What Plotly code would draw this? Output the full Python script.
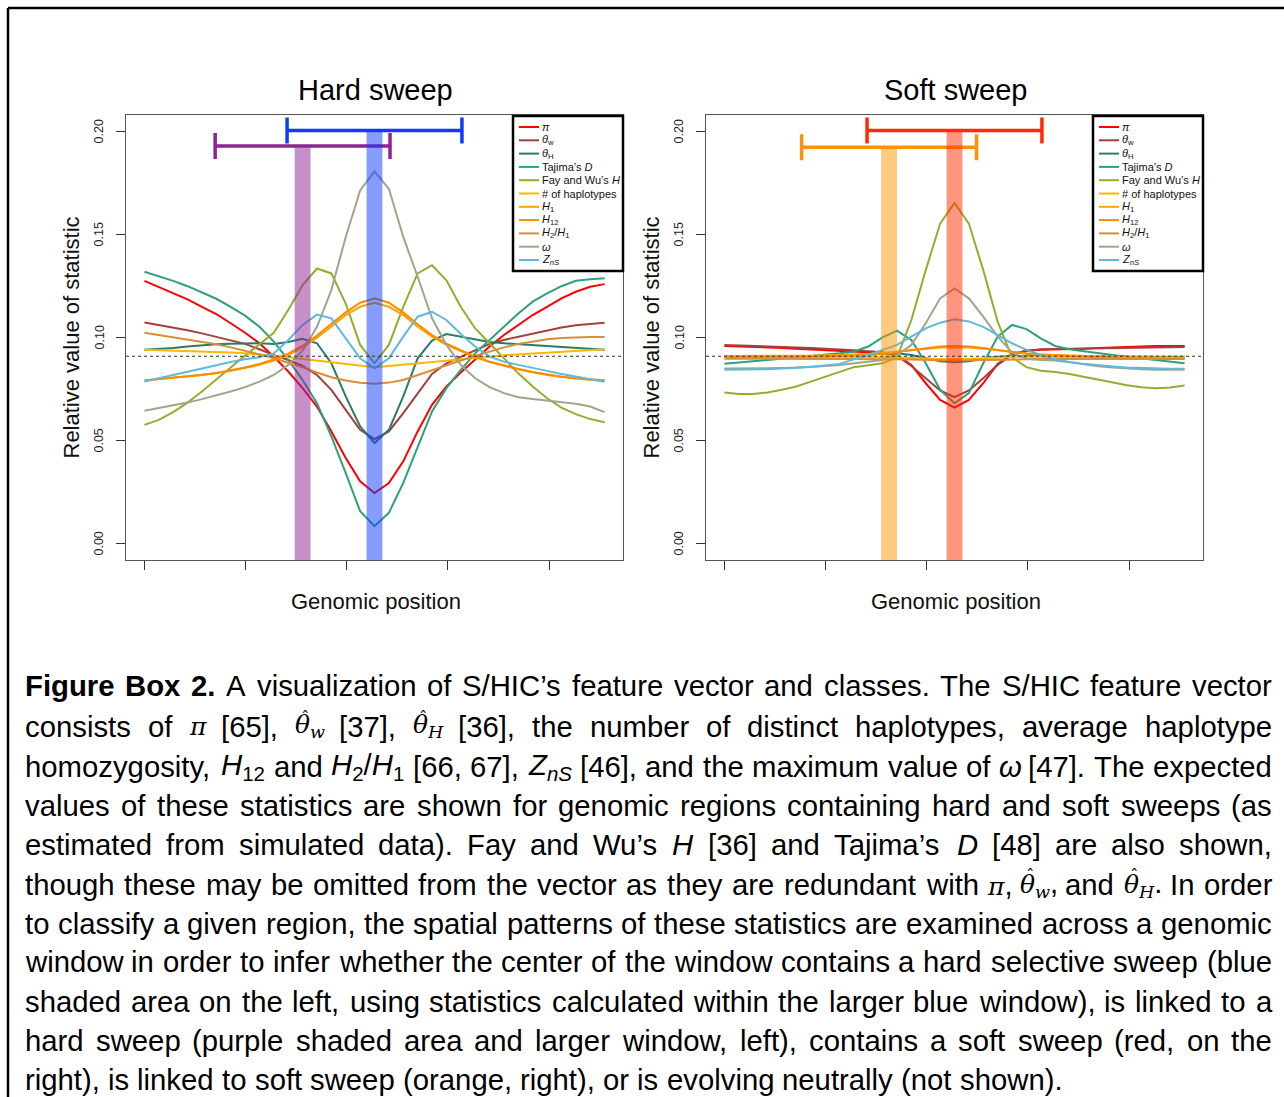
import re
import plotly.graph_objects as go

# ---------------- data ----------------
positions = list(range(33))                      # sampling points along the genomic window
x_tick_positions = [0, 7.04, 14.07, 21.11, 28.15]
y_tick_values = [0.00, 0.05, 0.10, 0.15, 0.20]
y_tick_labels = ["0.00", "0.05", "0.10", "0.15", "0.20"]
neutral_level = 1 / 11

panel_titles = ["Hard sweep", "Soft sweep"]
x_title = "Genomic position"
y_title = "Relative value of statistic"

stat_labels = ["<i>π</i>", "<i>θ</i><sub>w</sub>", "<i>θ</i><sub>H</sub>", "Tajima’s <i>D</i>",
               "Fay and Wu’s <i>H</i>", "# of haplotypes", "<i>H</i><sub>1</sub>", "<i>H</i><sub>12</sub>",
               "<i>H</i><sub>2</sub>/<i>H</i><sub>1</sub>", "<i>ω</i>", "<i>Z</i><sub><i>nS</i></sub>"]
stat_colors = ["#FF0000", "#A3403C", "#2B7B68", "#2EA07C", "#93AE2E", "#FFB700",
               "#FFA500", "#FF8C00", "#D88E35", "#A0A58A", "#5CBADB"]

# ---- hard sweep panel ----
hard_pi = [0.1275, 0.1246, 0.1217, 0.1185, 0.1149, 0.1114, 0.1069, 0.1023, 0.0972, 0.0907, 0.0835,
           0.0754, 0.0665, 0.0544, 0.0415, 0.0302, 0.0245, 0.0294, 0.0399, 0.0544, 0.0673, 0.0762,
           0.0830, 0.0894, 0.0956, 0.1012, 0.1061, 0.1109, 0.1149, 0.1190, 0.1222, 0.1246, 0.1259]
hard_theta_w = [0.1073, 0.1061, 0.1048, 0.1035, 0.1020, 0.1004, 0.0988, 0.0969, 0.0943, 0.0915, 0.0891,
                0.0862, 0.0818, 0.0746, 0.0649, 0.0552, 0.0507, 0.0544, 0.0633, 0.0730, 0.0823, 0.0875,
                0.0907, 0.0940, 0.0969, 0.0988, 0.1004, 0.1020, 0.1036, 0.1049, 0.1059, 0.1067, 0.1072]
hard_theta_h = [0.0940, 0.0943, 0.0949, 0.0956, 0.0962, 0.0967, 0.0970, 0.0972, 0.0972, 0.0969, 0.0978,
                0.0994, 0.0972, 0.0875, 0.0714, 0.0568, 0.0488, 0.0552, 0.0714, 0.0899, 0.0985, 0.1017,
                0.1004, 0.0988, 0.0978, 0.0972, 0.0967, 0.0962, 0.0957, 0.0952, 0.0948, 0.0943, 0.0940]
hard_tajima_d = [0.1319, 0.1298, 0.1275, 0.1249, 0.1220, 0.1188, 0.1149, 0.1106, 0.1052, 0.0980, 0.0891,
                 0.0794, 0.0681, 0.0520, 0.0342, 0.0157, 0.0084, 0.0149, 0.0294, 0.0471, 0.0641, 0.0754,
                 0.0843, 0.0923, 0.0988, 0.1052, 0.1117, 0.1174, 0.1214, 0.1249, 0.1275, 0.1283, 0.1287]
hard_fay_wu_h = [0.0576, 0.0600, 0.0638, 0.0684, 0.0738, 0.0794, 0.0854, 0.0912, 0.0967, 0.1023, 0.1133,
                 0.1254, 0.1335, 0.1311, 0.1165, 0.0964, 0.0875, 0.0964, 0.1149, 0.1311, 0.1351, 0.1278,
                 0.1149, 0.1044, 0.0972, 0.0899, 0.0826, 0.0762, 0.0705, 0.0660, 0.0628, 0.0604, 0.0589]
hard_n_haplotypes = [0.0940, 0.0938, 0.0936, 0.0935, 0.0931, 0.0930, 0.0927, 0.0923, 0.0918, 0.0912, 0.0904,
                     0.0896, 0.0888, 0.0880, 0.0870, 0.0862, 0.0856, 0.0862, 0.0868, 0.0875, 0.0881, 0.0888,
                     0.0894, 0.0901, 0.0907, 0.0914, 0.0918, 0.0923, 0.0928, 0.0933, 0.0936, 0.0940, 0.0943]
hard_h1 = [0.0791, 0.0798, 0.0804, 0.0810, 0.0818, 0.0826, 0.0838, 0.0851, 0.0867, 0.0888, 0.0915,
           0.0952, 0.0999, 0.1052, 0.1109, 0.1149, 0.1169, 0.1149, 0.1109, 0.1052, 0.1004, 0.0964,
           0.0933, 0.0904, 0.0881, 0.0862, 0.0846, 0.0831, 0.0818, 0.0809, 0.0801, 0.0794, 0.0791]
hard_h12 = [0.0791, 0.0798, 0.0804, 0.0810, 0.0818, 0.0828, 0.0840, 0.0854, 0.0872, 0.0893, 0.0922,
            0.0960, 0.1009, 0.1064, 0.1122, 0.1169, 0.1190, 0.1169, 0.1122, 0.1064, 0.1012, 0.0970,
            0.0938, 0.0907, 0.0883, 0.0864, 0.0847, 0.0833, 0.0820, 0.0810, 0.0802, 0.0796, 0.0793]
hard_h2_h1 = [0.1023, 0.1012, 0.1001, 0.0989, 0.0978, 0.0967, 0.0952, 0.0936, 0.0918, 0.0899, 0.0878,
              0.0856, 0.0830, 0.0807, 0.0791, 0.0780, 0.0775, 0.0781, 0.0794, 0.0818, 0.0843, 0.0867,
              0.0888, 0.0910, 0.0931, 0.0952, 0.0969, 0.0980, 0.0991, 0.0998, 0.1001, 0.1002, 0.1002]
hard_omega = [0.0644, 0.0657, 0.0670, 0.0684, 0.0701, 0.0718, 0.0738, 0.0759, 0.0786, 0.0818, 0.0867,
              0.0936, 0.1052, 0.1230, 0.1488, 0.1714, 0.1806, 0.1722, 0.1488, 0.1295, 0.1093, 0.0964,
              0.0867, 0.0802, 0.0759, 0.0730, 0.0710, 0.0701, 0.0694, 0.0688, 0.0678, 0.0665, 0.0638]
hard_zns = [0.0786, 0.0802, 0.0818, 0.0835, 0.0851, 0.0867, 0.0881, 0.0894, 0.0904, 0.0923, 0.0988,
            0.1061, 0.1111, 0.1093, 0.0996, 0.0899, 0.0851, 0.0899, 0.1004, 0.1101, 0.1125, 0.1085,
            0.1017, 0.0956, 0.0907, 0.0883, 0.0867, 0.0851, 0.0838, 0.0823, 0.0810, 0.0797, 0.0785]

# ---- soft sweep panel ----
soft_pi = [0.0959, 0.0957, 0.0956, 0.0952, 0.0949, 0.0946, 0.0943, 0.0940, 0.0936, 0.0931, 0.0928,
           0.0925, 0.0915, 0.0867, 0.0778, 0.0697, 0.0660, 0.0697, 0.0778, 0.0872, 0.0920, 0.0936,
           0.0940, 0.0941, 0.0943, 0.0946, 0.0949, 0.0952, 0.0956, 0.0957, 0.0959, 0.0959, 0.0959]
soft_theta_w = [0.0964, 0.0962, 0.0960, 0.0959, 0.0956, 0.0952, 0.0949, 0.0946, 0.0943, 0.0938, 0.0933,
                0.0928, 0.0910, 0.0862, 0.0802, 0.0743, 0.0710, 0.0743, 0.0802, 0.0867, 0.0915, 0.0936,
                0.0943, 0.0944, 0.0946, 0.0948, 0.0949, 0.0951, 0.0952, 0.0952, 0.0954, 0.0954, 0.0954]
soft_theta_h = [0.0907, 0.0907, 0.0907, 0.0909, 0.0909, 0.0909, 0.0910, 0.0910, 0.0912, 0.0914, 0.0917,
                0.0920, 0.0923, 0.0915, 0.0899, 0.0885, 0.0880, 0.0885, 0.0897, 0.0907, 0.0910, 0.0910,
                0.0910, 0.0909, 0.0909, 0.0907, 0.0907, 0.0907, 0.0907, 0.0907, 0.0907, 0.0906, 0.0906]
soft_tajima_d = [0.0872, 0.0878, 0.0885, 0.0891, 0.0897, 0.0904, 0.0910, 0.0917, 0.0923, 0.0931, 0.0956,
                 0.1001, 0.1033, 0.0988, 0.0875, 0.0746, 0.0681, 0.0730, 0.0875, 0.1004, 0.1061, 0.1041,
                 0.0996, 0.0959, 0.0943, 0.0933, 0.0923, 0.0915, 0.0907, 0.0899, 0.0891, 0.0883, 0.0875]
soft_fay_wu_h = [0.0733, 0.0726, 0.0726, 0.0733, 0.0746, 0.0762, 0.0786, 0.0810, 0.0835, 0.0856, 0.0865,
                 0.0875, 0.0904, 0.1085, 0.1327, 0.1553, 0.1653, 0.1553, 0.1327, 0.1077, 0.0904, 0.0856,
                 0.0839, 0.0833, 0.0823, 0.0810, 0.0794, 0.0781, 0.0768, 0.0759, 0.0754, 0.0757, 0.0767]
soft_n_haplotypes = [0.0906, 0.0906, 0.0906, 0.0906, 0.0906, 0.0906, 0.0906, 0.0907, 0.0907, 0.0907, 0.0907,
                     0.0906, 0.0904, 0.0901, 0.0897, 0.0896, 0.0894, 0.0896, 0.0899, 0.0902, 0.0906, 0.0907,
                     0.0907, 0.0907, 0.0907, 0.0907, 0.0906, 0.0906, 0.0906, 0.0906, 0.0904, 0.0904, 0.0904]
soft_h1 = [0.0910, 0.0910, 0.0910, 0.0910, 0.0910, 0.0912, 0.0912, 0.0914, 0.0915, 0.0917, 0.0920,
           0.0925, 0.0931, 0.0940, 0.0946, 0.0951, 0.0952, 0.0951, 0.0946, 0.0938, 0.0930, 0.0923,
           0.0918, 0.0915, 0.0912, 0.0910, 0.0909, 0.0907, 0.0906, 0.0904, 0.0902, 0.0901, 0.0899]
soft_h12 = [0.0904, 0.0904, 0.0904, 0.0904, 0.0906, 0.0906, 0.0907, 0.0909, 0.0910, 0.0912, 0.0915,
            0.0921, 0.0930, 0.0940, 0.0949, 0.0956, 0.0959, 0.0956, 0.0949, 0.0940, 0.0930, 0.0921,
            0.0917, 0.0912, 0.0909, 0.0906, 0.0904, 0.0902, 0.0901, 0.0899, 0.0899, 0.0897, 0.0897]
soft_h2_h1 = [0.0897, 0.0897, 0.0897, 0.0897, 0.0897, 0.0897, 0.0897, 0.0897, 0.0897, 0.0897, 0.0897,
              0.0896, 0.0894, 0.0893, 0.0891, 0.0889, 0.0888, 0.0889, 0.0891, 0.0893, 0.0894, 0.0896,
              0.0896, 0.0896, 0.0896, 0.0896, 0.0896, 0.0896, 0.0896, 0.0896, 0.0896, 0.0896, 0.0896]
soft_omega = [0.0849, 0.0849, 0.0849, 0.0851, 0.0852, 0.0854, 0.0857, 0.0862, 0.0867, 0.0875, 0.0883,
              0.0891, 0.0915, 0.0964, 0.1069, 0.1190, 0.1238, 0.1190, 0.1101, 0.1004, 0.0927, 0.0897,
              0.0891, 0.0888, 0.0880, 0.0870, 0.0860, 0.0854, 0.0849, 0.0846, 0.0844, 0.0844, 0.0843]
soft_zns = [0.0843, 0.0843, 0.0844, 0.0846, 0.0849, 0.0852, 0.0857, 0.0864, 0.0872, 0.0894, 0.0915,
            0.0940, 0.0964, 0.1004, 0.1044, 0.1072, 0.1088, 0.1078, 0.1052, 0.1012, 0.0972, 0.0940,
            0.0915, 0.0894, 0.0881, 0.0872, 0.0864, 0.0859, 0.0854, 0.0851, 0.0849, 0.0848, 0.0848]

hard_series = [hard_pi, hard_theta_w, hard_theta_h, hard_tajima_d, hard_fay_wu_h, hard_n_haplotypes,
               hard_h1, hard_h12, hard_h2_h1, hard_omega, hard_zns]
soft_series = [soft_pi, soft_theta_w, soft_theta_h, soft_tajima_d, soft_fay_wu_h, soft_n_haplotypes,
               soft_h1, soft_h12, soft_h2_h1, soft_omega, soft_zns]

# classification windows: (center, level of the bracket, colour)
window_half_width = 6.08
band_half_width = 0.55
hard_windows = [(16.0, 0.2005, "#0D3BFF"), (11.0, 0.1929, "#8E2396")]
soft_windows = [(16.0, 0.2005, "#FF2A00"), (11.45, 0.1924, "#FF9400")]

caption_lines = [
    "<b>Figure</b> <b>Box</b> <b>2.</b> A visualization of S/HIC’s feature vector and classes. The S/HIC feature vector",
    "consists of {PI} [65], {THW} [37], {THH} [36], the number of distinct haplotypes, average haplotype",
    "homozygosity, <i>H</i><sub>12</sub> and <i>H</i><sub>2</sub>/<i>H</i><sub>1</sub> [66, 67], <i>Z</i><sub><i>nS</i></sub> [46], and the maximum value of <i>ω</i> [47]. The expected",
    "values of these statistics are shown for genomic regions containing hard and soft sweeps (as",
    "estimated from simulated data). Fay and Wu’s <i>H</i> [36] and Tajima’s <i>D</i> [48] are also shown,",
    "though these may be omitted from the vector as they are redundant with {PI}, {THW}, and {THH}. In order",
    "to classify a given region, the spatial patterns of these statistics are examined across a genomic",
    "window in order to infer whether the center of the window contains a hard selective sweep (blue",
    "shaded area on the left, using statistics calculated within the larger blue window), is linked to a",
    "hard sweep (purple shaded area and larger window, left), contains a soft sweep (red, on the",
    "right), is linked to soft sweep (orange, right), or is evolving neutrally (not shown).",
]

# ---------------- layout helpers ----------------
W, H = 1284, 1097
FONT = "Liberation Sans, Arial, Helvetica, sans-serif"


def px(x):
    return x / W


def py(y):
    return 1 - y / H


panel_left = [126, 706]
panel_right = [623, 1203]
panel_top, panel_bottom = 115, 560
x_range = [-1.28, 33.28]
y_range = [-0.008, 0.208]

fig = go.Figure()
shapes = []
annotations = []

for p, (series, windows) in enumerate([(hard_series, hard_windows), (soft_series, soft_windows)]):
    xa = "x" if p == 0 else "x2"
    ya = "y" if p == 0 else "y2"
    for vals, col in zip(series, stat_colors):
        fig.add_trace(go.Scatter(x=positions, y=vals, mode="lines", xaxis=xa, yaxis=ya,
                                 line=dict(color=col, width=2), showlegend=False, hoverinfo="skip"))
    # window brackets
    for c, lvl, col in windows:
        fig.add_trace(go.Scatter(x=[c], y=[lvl], mode="markers", xaxis=xa, yaxis=ya,
                                 marker=dict(size=2, opacity=0), showlegend=False, hoverinfo="skip",
                                 error_x=dict(type="data", array=[window_half_width], symmetric=True,
                                              color=col, thickness=3.5, width=13)))
        shapes.append(dict(type="rect", xref=xa, yref=ya, x0=c - band_half_width, x1=c + band_half_width,
                           y0=y_range[0], y1=lvl - 0.0006, fillcolor=col, opacity=0.5,
                           line=dict(width=0), layer="above"))
    # neutral expectation
    shapes.append(dict(type="line", xref=xa + " domain", yref=ya, x0=0, x1=1, y0=neutral_level,
                       y1=neutral_level, line=dict(color="#333333", width=1.2, dash="3px,3px"), layer="above"))

    # titles
    cx = (panel_left[p] + panel_right[p]) / 2
    annotations.append(dict(text=panel_titles[p], xref="paper", yref="paper", x=px(cx + 1), y=py(90),
                            showarrow=False, font=dict(family=FONT, size=29, color="#000"),
                            xanchor="center", yanchor="middle"))
    annotations.append(dict(text=x_title, xref="paper", yref="paper", x=px(cx + 1), y=py(601),
                            showarrow=False, font=dict(family=FONT, size=22, color="#111"),
                            xanchor="center", yanchor="middle"))
    annotations.append(dict(text=y_title, xref="paper", yref="paper", x=px(panel_left[p] - 55),
                            y=py((panel_top + panel_bottom) / 2), textangle=-90, showarrow=False,
                            font=dict(family=FONT, size=22, color="#111"), xanchor="center", yanchor="middle"))
    for tv, tl in zip(y_tick_values, y_tick_labels):
        annotations.append(dict(text=tl, xref="paper", yref=ya, x=px(panel_left[p] - 27), y=tv,
                                textangle=-90, showarrow=False, font=dict(family=FONT, size=12.5, color="#222"),
                                xanchor="center", yanchor="middle"))

    # legend (custom, compact like R's legend)
    lx0 = panel_right[p] - 110
    shapes.append(dict(type="rect", xref="paper", yref="paper", x0=px(lx0), x1=px(panel_right[p]),
                       y0=py(271), y1=py(panel_top + 1), fillcolor="white",
                       line=dict(color="black", width=2.5), layer="above"))
    for k, (lab, col) in enumerate(zip(stat_labels, stat_colors)):
        yy = 127 + 13.3 * k
        shapes.append(dict(type="line", xref="paper", yref="paper", x0=px(lx0 + 6), x1=px(lx0 + 26),
                           y0=py(yy), y1=py(yy), line=dict(color=col, width=2), layer="above"))
        annotations.append(dict(text=lab, xref="paper", yref="paper", x=px(lx0 + 28.5), y=py(yy),
                                showarrow=False, font=dict(family=FONT, size=11, color="#111"),
                                xanchor="left", yanchor="middle", borderpad=0, borderwidth=0))

# ---------------- caption (justified) ----------------
HELV = {}
for ch, w in zip("abcdefghijklmnopqrstuvwxyz",
                 [556, 556, 500, 556, 556, 278, 556, 556, 222, 222, 500, 222, 833, 556, 556, 556, 556, 333,
                  500, 278, 556, 500, 722, 500, 500, 500]):
    HELV[ch] = w
for ch, w in zip("ABCDEFGHIJKLMNOPQRSTUVWXYZ",
                 [667, 667, 722, 722, 667, 611, 778, 722, 278, 500, 667, 556, 833, 722, 778, 667, 778, 722,
                  667, 611, 722, 667, 944, 667, 667, 611]):
    HELV[ch] = w
for ch in "0123456789":
    HELV[ch] = 556
HELV.update({" ": 278, ",": 278, ".": 278, "(": 333, ")": 333, "[": 278, "]": 278, "/": 278,
             "’": 222, "'": 191, "#": 556, "-": 333, ":": 278, ";": 278, "ω": 690})
BOLD = {"F": 611, "i": 278, "g": 611, "u": 611, "r": 389, "e": 556, "B": 722, "o": 611, "x": 556,
        "2": 556, ".": 278}
SERIF = "DejaVu Serif"
MATH_STYLE = "font-family:%s;font-size:25px" % SERIF
# macro -> (html, width in em of the caption font, needs a hat above its first glyph)
MACROS = {
    "{PI}": ("<span style='%s'><i>π</i></span>" % MATH_STYLE, 0.52, False),
    "{THW}": ("<span style='%s'><i>θ</i><sub><i>w</i></sub></span>" % MATH_STYLE, 0.92, True),
    "{THH}": ("<span style='%s'><i>θ</i><sub><i>H</i></sub></span>" % MATH_STYLE, 0.96, True),
}


def token_width(tok):
    em = 0.0
    for m, (_, w, _) in MACROS.items():
        while m in tok:
            em += w
            tok = tok.replace(m, "", 1)
    table = BOLD if "<b>" in tok else HELV
    for sub in re.findall(r"<sub>(.*?)</sub>", tok):
        em += 0.7 * sum(HELV.get(c, 556) for c in re.sub(r"<[^>]+>", "", sub)) / 1000
    tok = re.sub(r"<sub>.*?</sub>", "", tok)
    plain = re.sub(r"<[^>]+>", "", tok)
    em += sum(table.get(c, HELV.get(c, 556)) for c in plain) / 1000
    return em


def token_html(tok):
    for m, (h, _, _) in MACROS.items():
        tok = tok.replace(m, h)
    return tok


def token_has_hat(tok):
    return any(tok.startswith(m) and hat for m, (_, _, hat) in MACROS.items())


cap_size = 29.3
cap_left, cap_right = 25, 1272
line_centers = [685, 726, 766, 805, 844, 884, 923, 962, 1001, 1040, 1079]
for li, (line, yc) in enumerate(zip(caption_lines, line_centers)):
    words = line.split(" ")
    widths = [token_width(w) * cap_size for w in words]
    last = li == len(caption_lines) - 1
    if last:
        gap = HELV[" "] / 1000 * cap_size
    else:
        gap = (cap_right - cap_left - sum(widths)) / (len(words) - 1)
    xcur = cap_left
    for w, wd in zip(words, widths):
        annotations.append(dict(text=token_html(w), xref="paper", yref="paper", x=px(xcur), y=py(yc),
                                showarrow=False, font=dict(family=FONT, size=cap_size, color="#000"),
                                xanchor="left", yanchor="middle", borderpad=0, borderwidth=0))
        if token_has_hat(w):
            annotations.append(dict(text="ˆ", xref="paper", yref="paper", x=px(xcur + 10.5), y=py(yc - 9),
                                    showarrow=False, font=dict(family=SERIF, size=17, color="#000"),
                                    xanchor="center", yanchor="middle", borderpad=0, borderwidth=0))
        xcur += wd + gap

# outer frame
shapes.append(dict(type="line", xref="paper", yref="paper", x0=px(8), x1=px(8), y0=0, y1=py(8),
                   line=dict(color="black", width=2.5)))
shapes.append(dict(type="line", xref="paper", yref="paper", x0=px(8), x1=1, y0=py(8), y1=py(8),
                   line=dict(color="black", width=2.5)))

axis_common = dict(showgrid=False, zeroline=False, showline=True, mirror=True, linecolor="#555",
                   linewidth=1.3, ticks="outside", ticklen=9, tickcolor="#333", tickwidth=1.3)
layout = dict(
    width=W, height=H, margin=dict(l=0, r=0, t=0, b=0),
    paper_bgcolor="white", plot_bgcolor="white", showlegend=False,
    shapes=shapes, annotations=annotations, font=dict(family=FONT),
)
for p in range(2):
    sx = "" if p == 0 else "2"
    layout["xaxis" + sx] = dict(axis_common, domain=[px(panel_left[p]), px(panel_right[p])],
                                range=x_range, tickvals=x_tick_positions, showticklabels=False,
                                anchor="y" + sx)
    layout["yaxis" + sx] = dict(axis_common, domain=[py(panel_bottom), py(panel_top)], range=y_range,
                                tickvals=y_tick_values, showticklabels=False, anchor="x" + sx)
fig.update_layout(**layout)

fig.write_html("out.html", config={"displayModeBar": False},
               post_script="document.body.style.margin='0';document.body.style.overflow='hidden';")
